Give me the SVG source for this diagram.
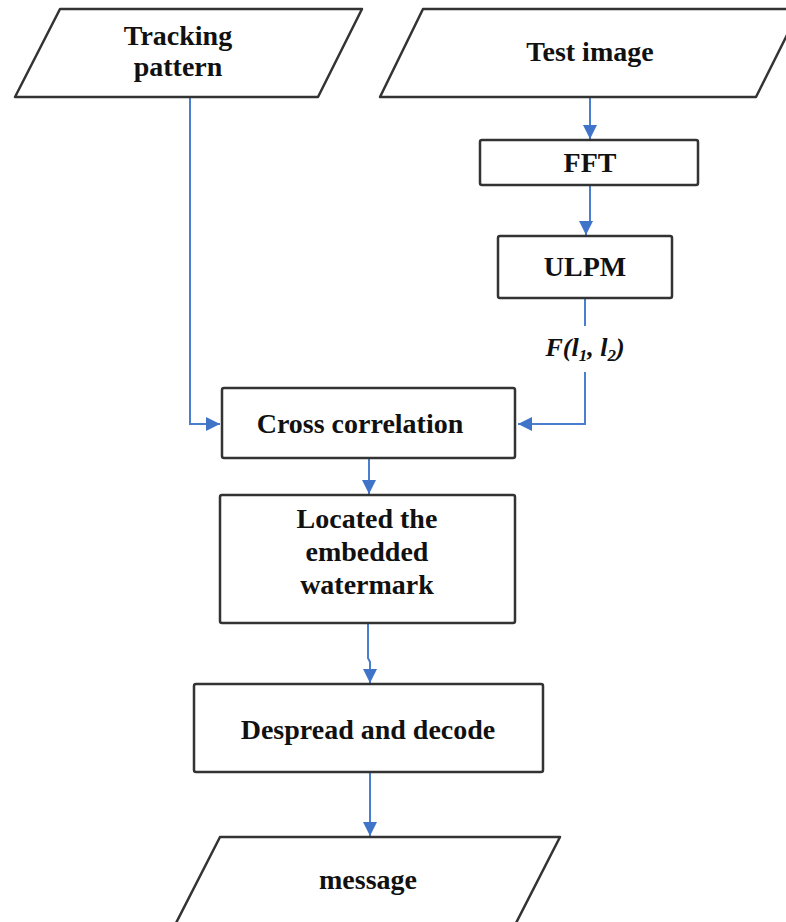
<svg xmlns="http://www.w3.org/2000/svg" width="786" height="922" viewBox="0 0 786 922">
<defs>
<style>
.box{fill:#fff;stroke:#333;stroke-width:2.5;stroke-linejoin:round}
.t{font-family:"Liberation Serif","Times New Roman",serif;font-weight:bold;font-size:28px;fill:#111;text-anchor:middle}
.c{fill:none;stroke:#4a7fd0;stroke-width:2}
</style>
<marker id="ah" viewBox="0 0 10 10" refX="10" refY="5" markerWidth="7" markerHeight="7" orient="auto" markerUnits="strokeWidth">
<path d="M0,0 L10,5 L0,10 z" fill="#3f74c8"/>
</marker>
</defs>
<rect width="786" height="922" fill="#fff"/>
<g id="connectors">
<path class="c" d="M190,97 V424 H220" marker-end="url(#ah)"/>
<path class="c" d="M590,97 V139" marker-end="url(#ah)"/>
<path class="c" d="M590,185 V222 L586,226 V235" marker-end="url(#ah)"/>
<path class="c" d="M585,298 V326"/>
<path class="c" d="M585,372 V424 H518" marker-end="url(#ah)"/>
<path class="c" d="M369,458 V494" marker-end="url(#ah)"/>
<path class="c" d="M368,623 V658 L370,662 V683" marker-end="url(#ah)"/>
<path class="c" d="M370,772 V836" marker-end="url(#ah)"/>
</g>
<g id="tracking">
<polygon class="box" points="60,9 362,9 318,97 15,97"/>
<text class="t" x="178" y="45">Tracking</text>
<text class="t" x="178" y="76">pattern</text>
</g>
<g id="testimage">
<polygon class="box" points="423,9 800,9 756,97 380,97"/>
<text class="t" x="590" y="61">Test image</text>
</g>
<g id="fft">
<rect class="box" x="480" y="140" width="218" height="45" rx="2"/>
<text class="t" x="590" y="172">FFT</text>
</g>
<g id="ulpm">
<rect class="box" x="498" y="236" width="174" height="62" rx="2"/>
<text class="t" x="585" y="276">ULPM</text>
</g>
<g id="label">
<text x="585" y="356" text-anchor="middle" font-family="Liberation Serif,Times New Roman,serif" font-size="26" font-style="italic" font-weight="bold" fill="#111">F(l<tspan font-size="17" dy="5">1</tspan><tspan dy="-5">, l</tspan><tspan font-size="17" dy="5">2</tspan><tspan dy="-5">)</tspan></text>
</g>
<g id="cross">
<rect class="box" x="222" y="388" width="293" height="70" rx="2"/>
<text class="t" x="360" y="433">Cross correlation</text>
</g>
<g id="located">
<rect class="box" x="220" y="495" width="295" height="128" rx="2"/>
<text class="t" x="367" y="528">Located the</text>
<text class="t" x="367" y="561">embedded</text>
<text class="t" x="367" y="594">watermark</text>
</g>
<g id="despread">
<rect class="box" x="194" y="684" width="349" height="88" rx="2"/>
<text class="t" x="368" y="739">Despread and decode</text>
</g>
<g id="message">
<polygon class="box" points="220,837 560,837 515,925 175,925"/>
<text class="t" x="368" y="889">message</text>
</g>
</svg>
